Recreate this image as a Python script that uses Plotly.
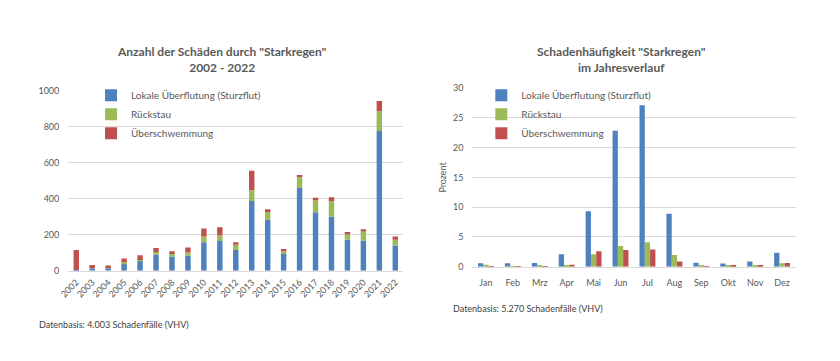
import plotly.graph_objects as go
import numpy as np

years = [str(y) for y in range(2002, 2023)]
lokal_y = [5, 13, 13, 40, 54, 90, 79, 83, 158, 164, 115, 387, 284, 92, 459, 324, 299, 171, 166, 774, 140]
rueck_y = [0, 2, 2, 7, 5, 14, 14, 18, 32, 31, 29, 59, 41, 16, 59, 65, 86, 32, 54, 110, 31]
ueber_y = [110, 16, 14, 20, 27, 22, 15, 27, 44, 46, 14, 108, 16, 12, 13, 16, 22, 11, 9, 57, 18]

months = ["Jan", "Feb", "Mrz", "Apr", "Mai", "Jun", "Jul", "Aug", "Sep", "Okt", "Nov", "Dez"]
lokal_m = [0.6, 0.6, 0.65, 2.1, 9.3, 22.8, 27.1, 8.9, 0.7, 0.55, 0.9, 2.35]
rueck_m = [0.33, 0.1, 0.2, 0.3, 2.1, 3.5, 4.1, 2.0, 0.2, 0.25, 0.2, 0.6]
ueber_m = [0.05, 0.1, 0.1, 0.35, 2.6, 2.8, 2.9, 0.9, 0.1, 0.25, 0.2, 0.65]

names = ["Lokale Überflutung (Sturzflut)", "Rückstau", "Überschwemmung"]
colors = ["#4F81BD", "#9BBB59", "#C0504D"]

FONT = "Lato"
TXT = "#595959"
GRID = "#D9D9D9"

fig = go.Figure()

# left: stacked via explicit base
left_series = [lokal_y, rueck_y, ueber_y]
base = np.zeros(len(years))
for name, col, vals in zip(names, colors, left_series):
    fig.add_trace(go.Bar(x=years, y=vals, base=base.copy(), name=name,
                         marker=dict(color=col, line=dict(width=0)),
                         offsetgroup="L", width=0.34,
                         xaxis="x", yaxis="y", legend="legend"))
    base = base + np.array(vals)

# right: grouped
right_series = [lokal_m, rueck_m, ueber_m]
for i, (name, col, vals) in enumerate(zip(names, colors, right_series)):
    fig.add_trace(go.Bar(x=months, y=vals, name=name,
                         marker=dict(color=col, line=dict(width=0)),
                         offsetgroup=str(i), xaxis="x2", yaxis="y2",
                         legend="legend2"))

W, H = 840, 361
def px(x): return x / W
def py(y): return (H - y) / H

axis_common = dict(showgrid=False, showline=True, linecolor=GRID, linewidth=1,
                   ticks="", tickfont=dict(family=FONT, size=9, color=TXT))
yaxis_common = dict(showgrid=True, gridcolor=GRID, gridwidth=1, zeroline=False,
                    showline=False, ticks="", ticklabelstandoff=8,
                    tickfont=dict(family=FONT, size=9, color=TXT))

legend_common = dict(xanchor="left", yanchor="top", traceorder="normal",
                     font=dict(family=FONT, size=10, color=TXT), bgcolor="rgba(0,0,0,0)",
                     itemwidth=30, tracegroupgap=0)

fig.update_layout(
    width=W, height=H,
    margin=dict(l=0, r=0, t=0, b=0),
    paper_bgcolor="white", plot_bgcolor="white",
    barmode="group", bargap=0.41, bargroupgap=0,
    font=dict(family=FONT, color=TXT),
    xaxis=dict(domain=[px(59), px(398)], anchor="y", tickangle=-45, type="category",
               ticklabelstandoff=2, **axis_common),
    yaxis=dict(domain=[py(273), py(87)], anchor="x", range=[0, 1000], dtick=200, **yaxis_common),
    xaxis2=dict(domain=[px(468), px(795)], anchor="y2", type="category",
                ticklabelstandoff=7, **axis_common),
    yaxis2=dict(domain=[py(269), py(84.5)], anchor="x2", range=[0, 30], dtick=5,
                title=dict(text="Prozent", font=dict(family=FONT, size=9, color=TXT), standoff=4),
                **yaxis_common),
    legend=dict(x=px(82), y=py(77), **legend_common),
    legend2=dict(x=px(477), y=py(77), **legend_common),
    annotations=[
        dict(text="<b>Anzahl der Schäden durch \"Starkregen\"<br>2002 - 2022</b>",
             x=px(215), y=py(55), xref="paper", yref="paper", xanchor="center",
             yanchor="middle", showarrow=False,
             font=dict(family=FONT, size=12, color=TXT), align="center"),
        dict(text="<b>Schadenhäufigkeit \"Starkregen\"<br>im Jahresverlauf</b>",
             x=px(619), y=py(55), xref="paper", yref="paper", xanchor="center",
             yanchor="middle", showarrow=False,
             font=dict(family=FONT, size=12, color=TXT), align="center"),
        dict(text="Datenbasis: 4.003 Schadenfälle (VHV)", x=px(27), y=py(328),
             xref="paper", yref="paper", xanchor="left", yanchor="middle", showarrow=False,
             font=dict(family=FONT, size=9, color="#404040")),
        dict(text="Datenbasis: 5.270 Schadenfälle (VHV)", x=px(446), y=py(312),
             xref="paper", yref="paper", xanchor="left", yanchor="middle", showarrow=False,
             font=dict(family=FONT, size=9, color="#404040")),
    ],
)

fig.write_html("out.html", config={"displayModeBar": False},
               post_script="document.body.style.margin='0';")
